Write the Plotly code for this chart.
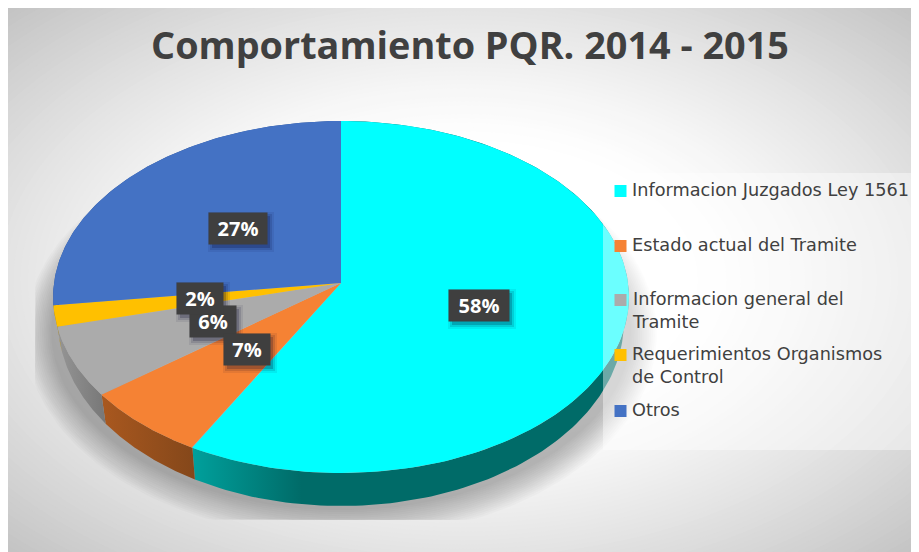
import numpy as np
import plotly.graph_objects as go

TITLE = "Comportamiento PQR. 2014 - 2015"
categories = ["Informacion Juzgados Ley 1561", "Estado actual del Tramite",
              "Informacion general del<br>Tramite", "Requerimientos Organismos<br>de Control", "Otros"]
values = [58, 6.6, 6.4, 2, 27]
top_colors = ["#00FFFF", "#F58234", "#ABABAB", "#FFC000", "#4472C4"]
side_scales = [
    [[0, "#00A09C"], [0.25, "#006B68"], [1, "#006B68"]],
    [[0, "#A9581F"], [1, "#84471A"]],
    [[0, "#959595"], [1, "#777777"]],
    [[0, "#B88A00"], [1, "#B88A00"]],
    [[0, "#2F5597"], [1, "#2F5597"]],
]

# projection of the tilted pie onto the page
CX, CY, A, B, Q = 341.0, 283.0, 287.0, 174.9, 0.0795
W, H = 919, 552
BODY = 8  # the page's own margin


def rim(p0, p1, n=160):
    t = 2 * np.pi * np.linspace(p0, p1, n) / 100.0
    X, Z = np.sin(t), np.cos(t)
    w = 1 + Q * Z
    return CX + A * X / w, CY - B * Z / w


def lower(x, y):
    """Rim of the pie's underside, seen in the same perspective."""
    return CX + (x - CX) * 0.983, CY + 23 + 1.053 * (y - CY)


# radial page background
rings = []
for r in np.linspace(1.46, 0.5, 62):
    f = max((r - 0.5) / 0.91, 0) ** 1.3
    g = int(round(255 - 59 * f))
    rings.append(dict(type="circle", xref="x", yref="y", layer="below", line_width=0,
                      fillcolor=f"rgb({g},{g},{g})",
                      x0=463 - 455 * r, x1=463 + 455 * r, y0=280 - 272 * r, y1=280 + 272 * r))

fig = go.Figure()

# soft shadow beneath the pie
xs, ys = rim(0, 100, 240)
for s in np.linspace(28, 2, 15):
    sx = CX + (xs - CX) * (1 + s / 288)
    sy = CY + 35 + (ys - CY) * (1 + s / 176)
    fig.add_trace(go.Scatter(x=np.clip(sx, 35, None), y=np.clip(sy, None, 520), mode="lines", fill="toself",
                             line_width=0, fillcolor="rgba(0,0,0,0.018)", hoverinfo="skip", showlegend=False))

# side wall then top face of each slice
edges = np.cumsum([0] + values)
for i in range(len(values)):
    x, y = rim(edges[i], edges[i + 1])
    bx, by = lower(x, y)
    fig.add_trace(go.Scatter(x=np.r_[x, bx[::-1]], y=np.r_[y, by[::-1]], mode="lines", fill="toself",
                             line_width=0, fillgradient=dict(type="horizontal", colorscale=side_scales[i]),
                             hoverinfo="skip", showlegend=False))
for i in range(len(values)):
    x, y = rim(edges[i], edges[i + 1])
    fig.add_trace(go.Scatter(x=np.r_[CX, x, CX], y=np.r_[CY, y, CY], mode="lines", fill="toself",
                             line_width=0, fillcolor=top_colors[i], name=categories[i],
                             hoverinfo="skip", showlegend=False))

# translucent legend panel
fig.add_trace(go.Scatter(x=[603, W, W, 603, 603], y=[173, 173, 450, 450, 173], mode="lines", fill="toself",
                         line_width=0, fillcolor="rgba(255,255,255,0.42)", hoverinfo="skip", showlegend=False))

# legend
legend_y = [191, 246, 300, 355, 411]
fig.add_trace(go.Scatter(x=[620.5] * 5, y=legend_y, mode="markers", hoverinfo="skip", showlegend=False,
                         marker=dict(symbol="square", size=12, color=top_colors, line_width=0)))
ann = [dict(x=631, y=yy - 12, xref="x", yref="y", text=c, showarrow=False, xanchor="left", yanchor="top",
            align="left", borderpad=0, font=dict(family="DejaVu Sans", size=17.7, color="#404040"))
       for c, yy in zip(categories, legend_y)]

# data labels: (slice index, box centre, box width)
label_order = [2, 3, 1, 4, 0]
label_x = {0: 479, 1: 247, 2: 213, 3: 200, 4: 238}
label_y = {0: 305, 1: 349, 2: 321, 3: 298, 4: 228}
label_w = {0: 60, 1: 46, 2: 46, 3: 46, 4: 58}
shadows = []
for i in label_order:
    hw = label_w[i] / 2
    for grow, alpha in [(4, 0.07), (2, 0.12), (0, 0.2)]:
        shadows.append(dict(type="rect", xref="x", yref="y", layer="above", line_width=0,
                            fillcolor=f"rgba(0,0,40,{alpha})",
                            x0=label_x[i] - hw + 3 - grow, x1=label_x[i] + hw + 3 + grow,
                            y0=label_y[i] - 16 + 4 - grow, y1=label_y[i] + 16 + 4 + grow))
    ann.append(dict(x=label_x[i], y=label_y[i], xref="x", yref="y", text=f"{round(values[i])}%", showarrow=False,
                    xanchor="center", yanchor="middle", width=label_w[i], height=31, borderpad=0,
                    bgcolor="#3F3F3F", font=dict(family="Open Sans", size=20, color="#FFFFFF", weight="bold")))

fig.update_layout(
    width=W - BODY, height=H - BODY, autosize=False, showlegend=False,
    margin=dict(l=0, r=0, t=0, b=0, pad=0),
    paper_bgcolor="#FFFFFF", plot_bgcolor="#FFFFFF",
    xaxis=dict(range=[BODY, W], visible=False, fixedrange=True),
    yaxis=dict(range=[H, BODY], visible=False, fixedrange=True),
    title=dict(text=TITLE, x=(470 - BODY) / (W - BODY), xref="paper", xanchor="center",
               y=1 - (46 - BODY) / (H - BODY), yref="container",
               yanchor="middle", font=dict(family="Open Sans", size=37.8, color="#404040", weight="bold")),
    shapes=rings + shadows,
    annotations=ann,
)
fig.write_html("out.html", config=dict(displayModeBar=False))
